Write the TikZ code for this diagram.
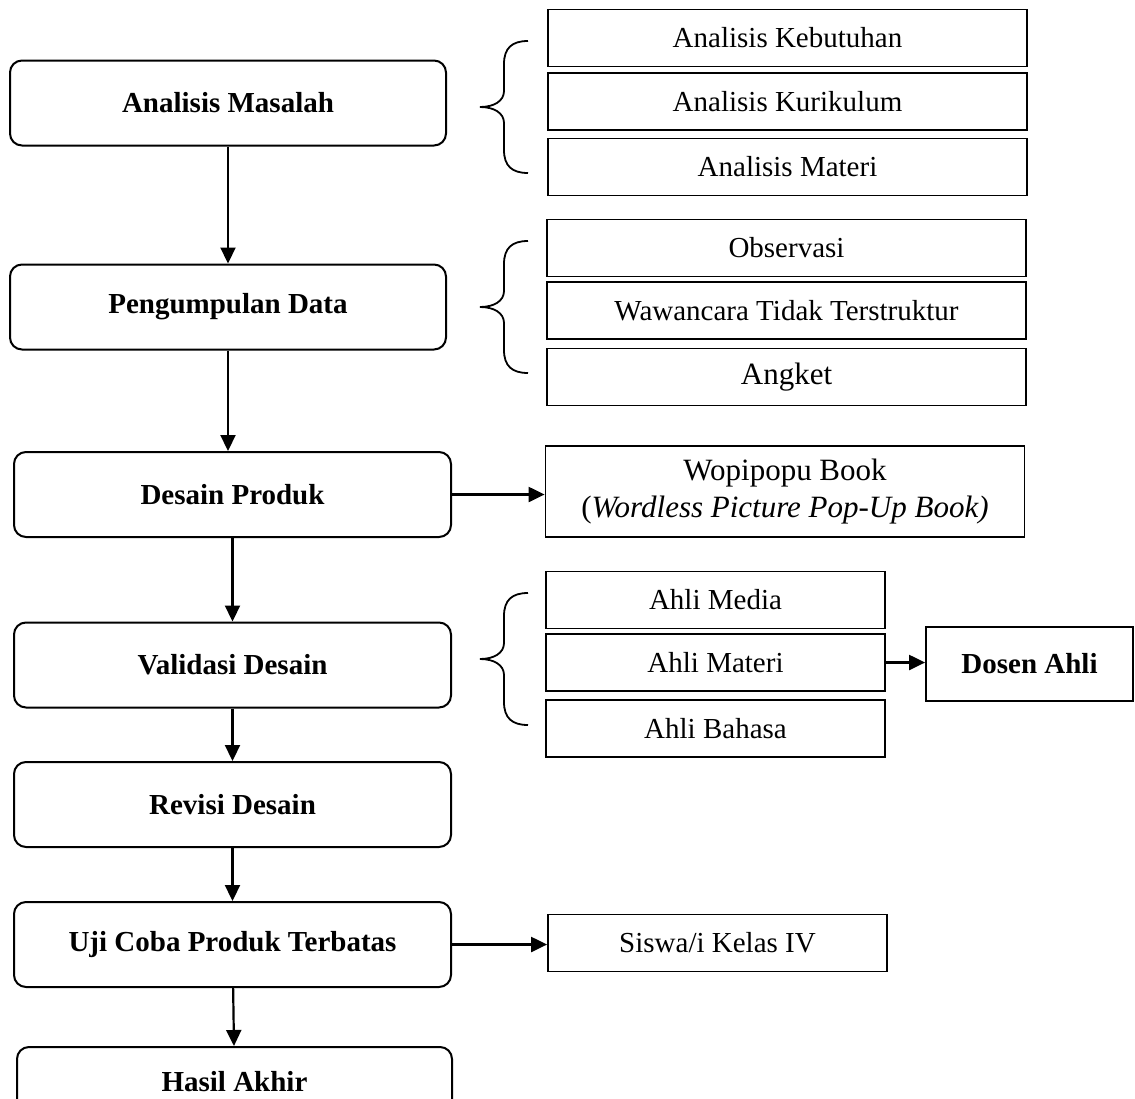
\documentclass[tikz,border=0pt]{standalone}
\usepackage{fontspec}
\setmainfont{Liberation Serif}
\usetikzlibrary{arrows.meta}

\begin{document}
\begin{tikzpicture}[x=1pt,y=-1pt]
  \tikzstyle{tahap}=[draw, rounded corners=12pt, line width=2pt, minimum width=436pt, minimum height=85pt, inner sep=0, font=\fontsize{29}{34}\selectfont\bfseries];
  \tikzstyle{rinci}=[draw, line width=1.8pt, minimum width=479pt, minimum height=57pt, inner sep=0, font=\fontsize{29}{34}\selectfont];
  \tikzstyle{ahli}=[rinci, minimum width=339pt];
  \tikzstyle{panah}=[line width=2.2pt, -{Triangle[length=16pt,width=15pt]}];
  \tikzset{kurawal/.pic={
    \draw[line width=1.8pt] (48,-66) .. controls (32,-66) and (24,-59) .. (24,-43) -- (24,-16)
      .. controls (24,-6) and (14,0) .. (0,0) .. controls (14,0) and (24,6) .. (24,16)
      -- (24,43) .. controls (24,59) and (32,66) .. (48,66);
  }}

  \useasboundingbox (0,0) rectangle (1135,1098);

  \node[tahap] (masalah) at (228,103) {Analisis Masalah};
  \node[tahap] (data) at (228,307) {Pengumpulan Data};
  \node[tahap, minimum width=437pt] (desain) at (232.5,494.5) {Desain Produk};
  \node[tahap, minimum width=437pt] (validasi) at (232.5,665) {Validasi Desain};
  \node[tahap, minimum width=437pt] (revisi) at (232.5,804.5) {Revisi Desain};
  \node[tahap, minimum width=437pt] (uji) at (232.5,944.5) {Uji Coba Produk Terbatas};
  \node[tahap, minimum width=435pt, minimum height=70pt] (hasil) at (234.5,1082) {Hasil Akhir};

  \node[rinci] (kebutuhan) at (787.5,38) {Analisis Kebutuhan};
  \node[rinci] (kurikulum) at (787.5,101.5) {Analisis Kurikulum};
  \node[rinci] (materi) at (787.5,167) {Analisis Materi};
  \node[rinci] (observasi) at (786.5,248) {Observasi};
  \node[rinci] (wawancara) at (786.5,310.5) {Wawancara Tidak Terstruktur};
  \node[rinci, font=\fontsize{31}{36}\selectfont] (angket) at (786.5,377) {Angket};
  \node[rinci, minimum height=91pt, align=center, font=\fontsize{31}{37}\selectfont] (wopi) at (785,491.5)
    {Wopipopu Book\\(\textit{Wordless Picture Pop-Up Book)}};
  \node[ahli] (media) at (715.5,600) {Ahli Media};
  \node[ahli] (ahlimateri) at (715.5,662.5) {Ahli Materi};
  \node[ahli] (bahasa) at (715.5,728.5) {Ahli Bahasa};
  \node[rinci, minimum width=207pt, minimum height=74pt, font=\fontsize{29}{34}\selectfont\bfseries] (dosen) at (1029.5,664) {Dosen Ahli};
  \node[ahli] (siswa) at (717.5,943) {Siswa/i Kelas IV};

  \pic at (480,107) {kurawal};
  \pic at (480,307) {kurawal};
  \pic at (480,659) {kurawal};

  \draw[panah] (masalah) -- (data);
  \draw[panah] (data.south) -- (data.south |- desain.north);
  \draw[panah] (desain) -- (validasi);
  \draw[panah] (validasi) -- (revisi);
  \draw[panah] (revisi) -- (uji);
  \draw[panah] (uji) -- (hasil);
  \draw[panah] (desain.east) -- (desain.east -| wopi.west);
  \draw[panah] (ahlimateri.east) -- (ahlimateri.east -| dosen.west);
  \draw[panah] (uji.east) -- (uji.east -| siswa.west);
\end{tikzpicture}
\end{document}
